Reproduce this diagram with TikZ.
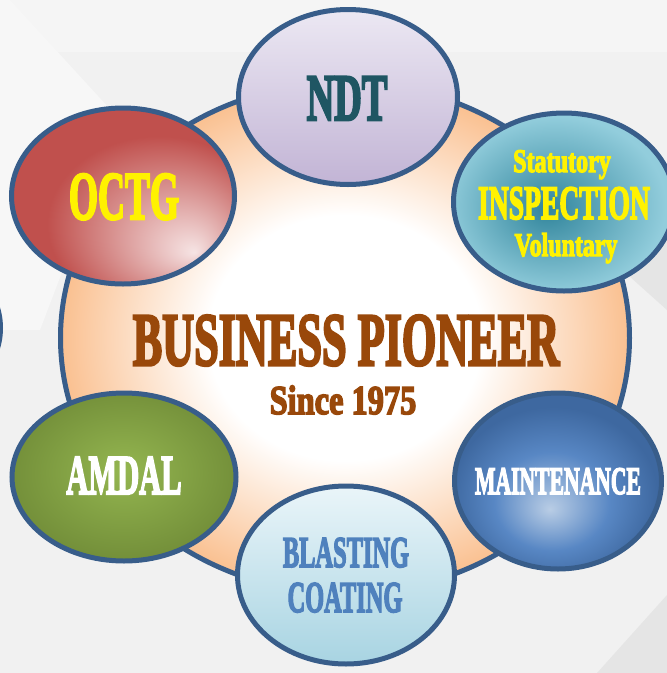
\documentclass[tikz,border=0pt]{standalone}
\usepackage{fontspec}
\usepackage{graphicx}
\setmainfont{Liberation Serif}[BoldFeatures={FakeBold=4}]
\usetikzlibrary{shapes.geometric}
\definecolor{rimblue}{RGB}{56,93,138}
\definecolor{backdrop}{RGB}{241,241,241}
\definecolor{backtop}{RGB}{245,245,245}
\definecolor{backlight}{RGB}{247,247,247}
\definecolor{backdark}{RGB}{229,229,229}
\definecolor{hubpeach}{RGB}{250,192,144}
\definecolor{octgdark}{RGB}{192,80,77}
\definecolor{octglight}{RGB}{246,228,228}
\definecolor{inspdark}{RGB}{49,133,156}
\definecolor{insplight}{RGB}{146,205,220}
\definecolor{maintdark}{RGB}{62,104,160}
\definecolor{maintmid}{RGB}{88,135,196}
\definecolor{maintlight}{RGB}{185,205,229}
\definecolor{amdaldark}{RGB}{116,144,58}
\definecolor{amdallight}{RGB}{148,182,80}
\definecolor{ndttop}{RGB}{236,232,243}
\definecolor{ndtbottom}{RGB}{194,180,213}
\definecolor{blasttop}{RGB}{234,245,249}
\definecolor{blastbottom}{RGB}{168,212,226}
\definecolor{bizbrown}{RGB}{153,72,10}
\definecolor{ndtteal}{RGB}{31,86,99}
\definecolor{blasttext}{RGB}{79,129,189}
\pgfdeclareradialshading{hubglow}{\pgfpoint{0bp}{0bp}}{color(0bp)=(white); color(12bp)=(white); color(25bp)=(hubpeach); color(50bp)=(hubpeach)}
\pgfdeclareradialshading{octgglow}{\pgfpoint{16bp}{-16bp}}{color(0bp)=(octglight); color(25bp)=(octgdark); color(50bp)=(octgdark)}
\pgfdeclareradialshading{inspglow}{\pgfpoint{-4bp}{-2bp}}{color(0bp)=(inspdark); color(25bp)=(insplight); color(50bp)=(insplight)}
\pgfdeclareradialshading{maintglow}{\pgfpoint{-2bp}{-8bp}}{color(0bp)=(maintlight); color(14bp)=(maintmid); color(25bp)=(maintdark); color(50bp)=(maintdark)}
\pgfdeclareradialshading{amdalglow}{\pgfpoint{0bp}{2bp}}{color(0bp)=(amdallight); color(25bp)=(amdaldark); color(50bp)=(amdaldark)}
\newcommand\squash[2]{\scalebox{#1}[1]{#2}}
\newcommand\tagsize[1]{\bfseries\fontsize{#1}{#1}\selectfont}
\tikzset{
  service/.style={ellipse,draw=rimblue,line width=5pt,inner sep=0pt},
  tag/.style={anchor=base,inner sep=0pt},
}

\begin{document}
\begin{tikzpicture}[x=1pt,y=-1pt]
\useasboundingbox (0,0) rectangle (667,673);
\clip (0,0) rectangle (667,673);
\fill[backdrop] (0,0) rectangle (667,673);
\fill[backtop] (0,0) rectangle (667,52);
\fill[backlight] (0,0) -- (10,0) -- (120,120) -- (40,330) -- (0,330) -- cycle;
\fill[backdark] (600,250) -- (667,200) -- (667,310) -- cycle;
\fill[backdark] (667,595) -- (597,673) -- (667,673) -- cycle;
\node[service,fill=backlight,minimum width=221pt,minimum height=175pt] (offpage) at (-110,328) {};
\node[service,shading=hubglow,minimum width=569pt,minimum height=511pt] (hub) at (345,338) {};
\node[service,top color=ndttop,bottom color=ndtbottom,minimum width=219pt,minimum height=175pt] (ndt) at (348,97) {};
\node[service,shading=octgglow,minimum width=223pt,minimum height=176pt] (octg) at (123,196) {};
\node[service,shading=inspglow,minimum width=221pt,minimum height=178pt] (insp) at (564,202) {};
\node[service,shading=amdalglow,minimum width=224pt,minimum height=168pt] (amdal) at (124,477) {};
\node[service,shading=maintglow,minimum width=207pt,minimum height=176pt] (maint) at (558,481) {};
\node[service,top color=blasttop,bottom color=blastbottom,minimum width=217pt,minimum height=178pt] (blast) at (346,575) {};
\node[tag,text=bizbrown,font=\tagsize{75}] (pioneer) at (346,365) {\squash{0.59}{BUSINESS PIONEER}};
\node[tag,text=bizbrown,font=\tagsize{41}] (since) at (343,414) {\squash{0.79}{Since 1975}};
\node[tag,text=ndtteal,font=\tagsize{66}] (ndt-label) at (347,120) {\squash{0.58}{NDT}};
\node[tag,text=yellow,font=\tagsize{68}] (octg-label) at (124,219) {\squash{0.55}{OCTG}};
\node[tag,text=yellow,font=\tagsize{33}] (insp-top) at (562,172) {\squash{0.73}{Statutory}};
\node[tag,text=yellow,font=\tagsize{48}] (insp-label) at (564,219) {\squash{0.575}{INSPECTION}};
\node[tag,text=yellow,font=\tagsize{33}] (insp-bottom) at (566,256) {\squash{0.725}{Voluntary}};
\node[tag,text=white,font=\tagsize{56}] (amdal-label) at (124,494) {\squash{0.545}{AMDAL}};
\node[tag,text=white,font=\tagsize{39}] (maint-label) at (558,494) {\squash{0.555}{MAINTENANCE}};
\node[tag,text=blasttext,font=\tagsize{44}] (blast-top) at (346,567) {\squash{0.555}{BLASTING}};
\node[tag,text=blasttext,font=\tagsize{44}] (blast-bottom) at (345,612) {\squash{0.555}{COATING}};
\end{tikzpicture}
\end{document}
